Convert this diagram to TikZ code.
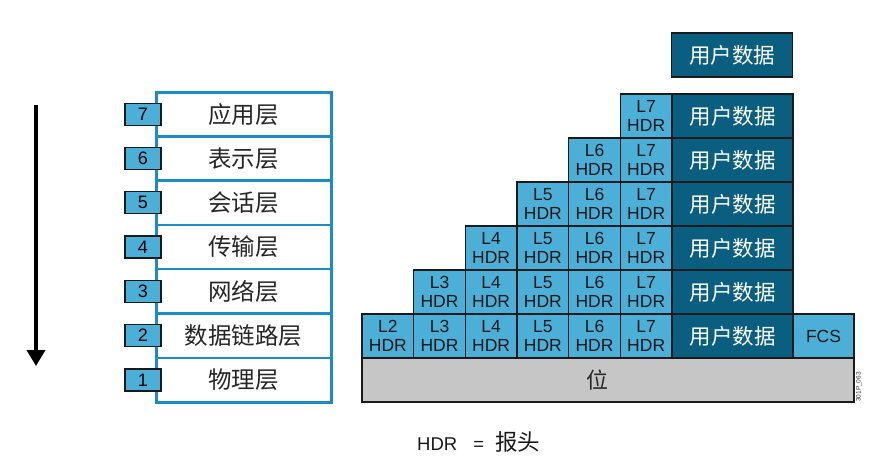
\documentclass[tikz,border=0pt]{standalone}
\usepackage{fontspec}
\setmainfont{Liberation Sans}
\newfontfamily\cjk{Noto Sans CJK SC}
\usetikzlibrary{arrows.meta}
\definecolor{layblue}{HTML}{1C8CC4}
\definecolor{lightcell}{HTML}{4BAFD7}
\definecolor{darkcell}{HTML}{0A5E80}
\definecolor{greycell}{HTML}{C6C6C6}
\definecolor{edgedark}{HTML}{1A1A1A}
\tikzset{
  layerbox/.style={draw=layblue, line width=2.5pt, fill=white, minimum width=175pt, minimum height=44.3pt, inner sep=0pt, font=\cjk\fontsize{23.5}{26}\selectfont, text=black!85},
  numbox/.style={draw=edgedark, line width=1.3pt, fill=lightcell, minimum width=36pt, minimum height=22pt, inner sep=0pt, font=\fontsize{18}{20}\selectfont},
  hdrcell/.style={draw=edgedark, line width=1.3pt, fill=lightcell, minimum width=51.67pt, minimum height=44pt, inner sep=0pt, align=center, font=\fontsize{17.5}{19.5}\selectfont, text=black!90},
  datacell/.style={draw=edgedark, line width=1.3pt, fill=darkcell, minimum width=121pt, minimum height=44pt, inner sep=0pt, font=\cjk\fontsize{21.5}{24}\selectfont, text=white},
  fcscell/.style={draw=edgedark, line width=1.3pt, fill=lightcell, minimum width=61pt, minimum height=44pt, inner sep=0pt, font=\fontsize{17.5}{20}\selectfont, text=black!90},
  bitcell/.style={draw=edgedark, line width=1.3pt, fill=greycell, minimum width=492pt, minimum height=44pt, inner sep=0pt},
}
\begin{document}
\begin{tikzpicture}[x=1pt,y=-1pt]
\useasboundingbox (0,0) rectangle (879,461);
% arrow
\coordinate (atop) at (36,105);
\coordinate (abot) at (36,366);
\draw[line width=3.5pt, -{Triangle[width=18pt,length=16pt]}] (atop) -- (abot);
% left layer stack
\foreach \n/\lab [count=\i from 0] in {7/应用层,6/表示层,5/会话层,4/传输层,3/网络层,2/数据链路层,1/物理层}{
  \node[layerbox] (lay\n) at (243.5,{114.15+\i*44.3}) {\lab};
}
\draw[layblue, line width=3pt] (156,92) rectangle (331,402);
\foreach \n [count=\i from 0] in {7,6,5,4,3,2,1}{
  \node[numbox] (num\n) at (143,{114.15+\i*44.3}) {\n};
}
% right: top user data
\node[datacell] (data0) at (732,55) {用户数据};
% staircase rows
\foreach \r in {1,...,6}{
  \pgfmathtruncatemacro{\startc}{6-\r}
  \foreach \c in {\startc,...,5}{
    \pgfmathtruncatemacro{\lev}{\c+2}
    \node[hdrcell] (h\r c\c) at ({362+25.835+\c*51.67},{94+22+(\r-1)*44}) {L\lev\\HDR};
  }
  \node[datacell] (data\r) at (732.5,{94+22+(\r-1)*44}) {用户数据};
}
\node[fcscell] (fcs) at (823.5,336) {FCS};
\node[bitcell] (bits) at (608,380) {};
\node[font=\cjk\fontsize{22}{24}\selectfont, text=black!85] (bitlab) at (597,380) {位};
\node[rotate=90, font=\fontsize{6.5}{7}\selectfont, text=black!80, inner sep=0pt] (code) at (859,387) {301P\_063};
% legend
\node[font=\fontsize{18.5}{20}\selectfont, text=black!90, inner sep=0pt, anchor=base west] (legend) at (417,450) {HDR\hspace{16pt}=\hspace{11pt}{\cjk\fontsize{22.5}{24}\selectfont 报头}};
\end{tikzpicture}
\end{document}
